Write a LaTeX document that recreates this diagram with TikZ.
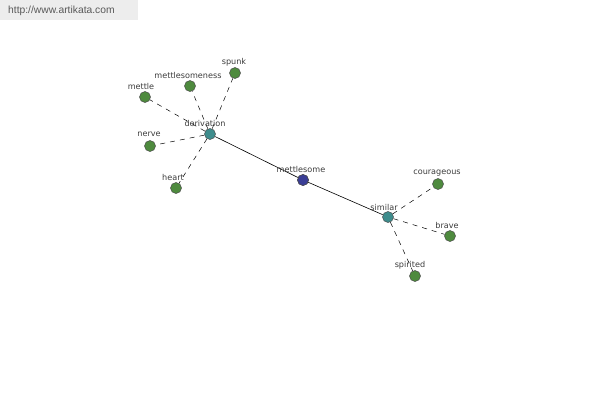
\documentclass[tikz,border=0pt]{standalone}
\usepackage{fontspec}
\setmainfont{Liberation Sans}
\newfontfamily\labfont{DejaVu Sans}
\definecolor{leafgreen}{RGB}{78,138,62}
\definecolor{hubteal}{RGB}{62,140,140}
\definecolor{rootblue}{RGB}{58,62,150}
\definecolor{labgray}{RGB}{60,60,60}
\begin{document}
\begin{tikzpicture}[x=1pt,y=-1pt,
  dot/.style={circle,draw=black!70,line width=0.5pt,minimum size=11pt,inner sep=0pt},
  leaf/.style={dot,fill=leafgreen},
  hub/.style={dot,fill=hubteal},
  root/.style={dot,fill=rootblue},
  lab/.style={font=\labfont\fontsize{8.1}{9}\selectfont,text=labgray,inner sep=0pt},
  rel/.style={dash pattern=on 5pt off 5pt,line width=0.5pt,black},
  link/.style={line width=0.6pt,black}]
\useasboundingbox (0,0) rectangle (600,400);
\fill[white] (0,0) rectangle (600,400);
\fill[black!7] (0,0) rectangle (138,20);
\node[anchor=west,font=\fontsize{10.3}{11}\selectfont,text=black!65,inner sep=0pt] (url) at (8,11) {http://www.artikata.com};
% nodes
\node[root] (mettlesome) at (303,180) {};
\node[hub] (derivation) at (210,134) {};
\node[hub] (similar) at (388,217) {};
\node[leaf] (mettle) at (145,97) {};
\node[leaf] (mettlesomeness) at (190,86) {};
\node[leaf] (spunk) at (235,73) {};
\node[leaf] (nerve) at (150,146) {};
\node[leaf] (heart) at (176,188) {};
\node[leaf] (courageous) at (438,184) {};
\node[leaf] (brave) at (450,236) {};
\node[leaf] (spirited) at (415,276) {};
% edges
\draw[link] (mettlesome.center) -- (derivation);
\draw[link] (mettlesome.center) -- (similar);
\foreach \n in {mettle,mettlesomeness,spunk,nerve,heart}
  \draw[rel] (derivation) -- (\n);
\foreach \n in {courageous,brave,spirited}
  \draw[rel] (similar) -- (\n);
\node[root] at (mettlesome) {};
% labels
\node[lab] (lmettle) at (141,86) {mettle};
\node[lab] (lmettlesomeness) at (188,75) {mettlesomeness};
\node[lab] (lspunk) at (234,62) {spunk};
\node[lab] (lderivation) at (205,123) {derivation};
\node[lab] (lnerve) at (149,134) {nerve};
\node[lab] (lheart) at (173,177) {heart};
\node[lab] (lmettlesome) at (301,169) {mettlesome};
\node[lab] (lsimilar) at (384,207) {similar};
\node[lab] (lcourageous) at (437,173) {courageous};
\node[lab] (lbrave) at (447,225) {brave};
\node[lab] (lspirited) at (410,265) {spirited};
\end{tikzpicture}
\end{document}
